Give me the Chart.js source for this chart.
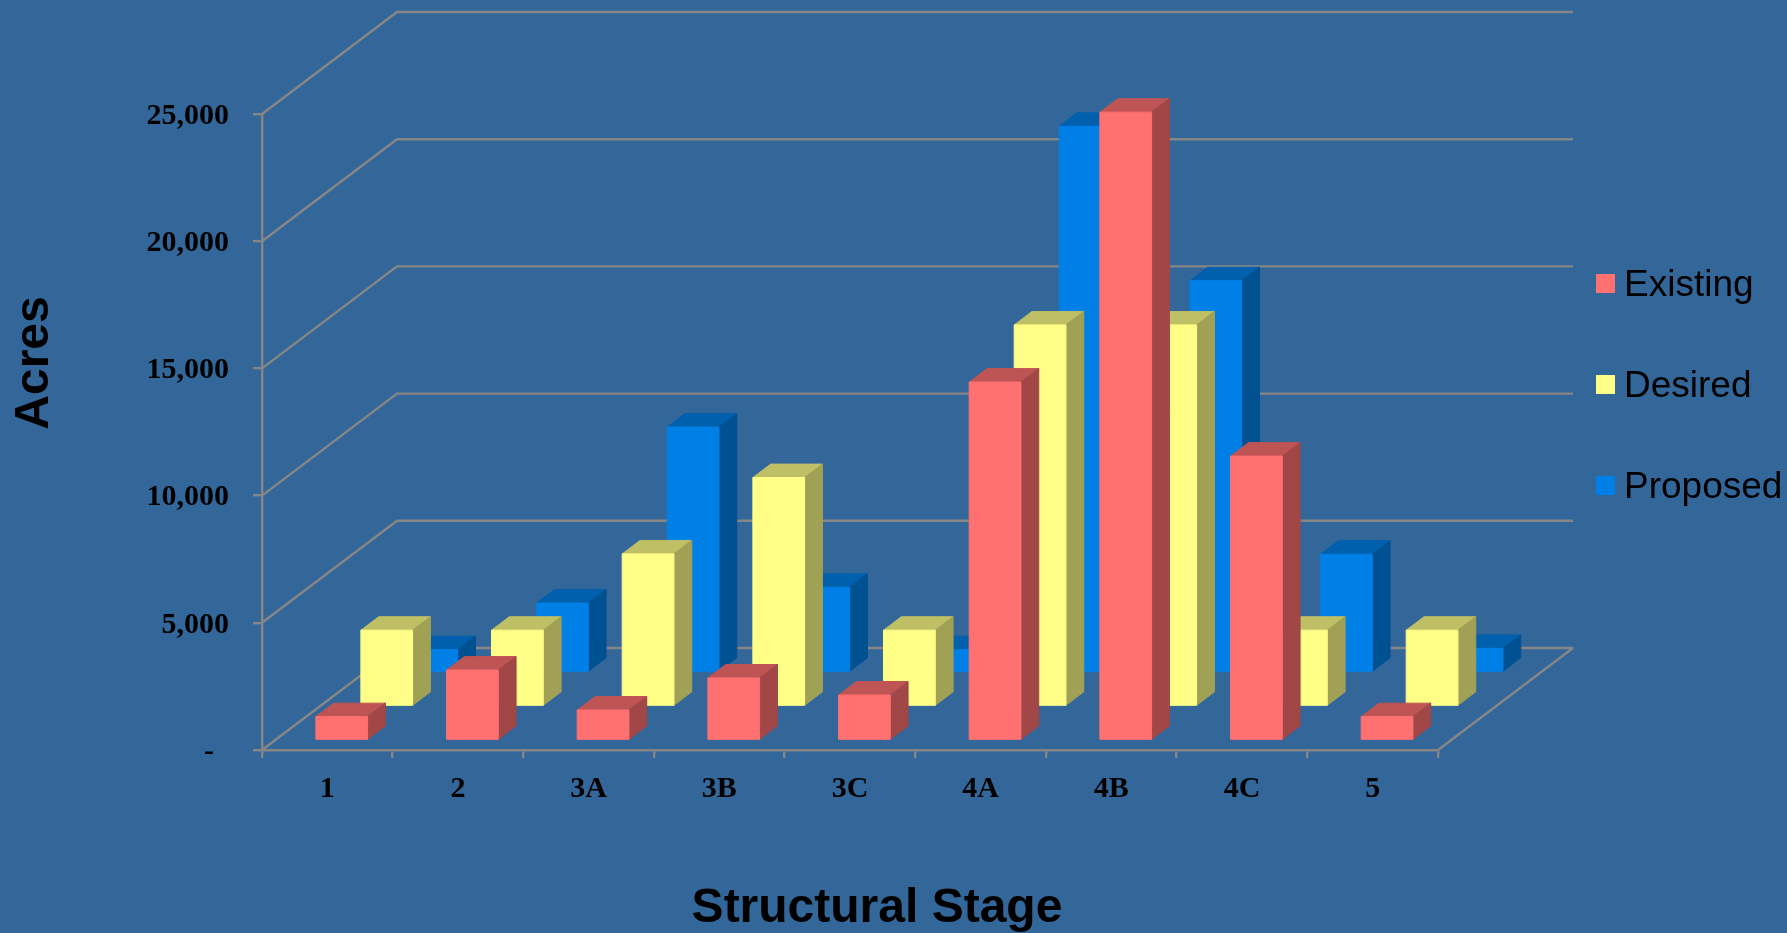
<!DOCTYPE html>
<html>
<head>
<meta charset="utf-8">
<title>Structural Stage</title>
<script src="https://cdn.jsdelivr.net/npm/chart.js@4/dist/chart.umd.min.js"></script>
<style>
  html, body { margin: 0; padding: 0; background: #336699; overflow: hidden; }
  canvas { display: block; }
</style>
</head>
<body>
<canvas id="stageChart" width="1787" height="933"></canvas>
<script>
const stages = ["1", "2", "3A", "3B", "3C", "4A", "4B", "4C", "5"];
const existing = [940, 2770, 1200, 2460, 1790, 14090, 24700, 11180, 940];
const desired = [3000, 3000, 6000, 9000, 3000, 15000, 15000, 3000, 3000];
const proposed = [900, 2730, 9650, 3350, 900, 21470, 15400, 4650, 950];

const seriesNames = ["Existing", "Desired", "Proposed"];
const seriesColors = ["#ff7070", "#ffff88", "#0080e6"];

const gridColor = "#868686";
const DEPTH_X = 135;
const DEPTH_Y = -102;
const ROW_START = 0.32; // where a bar begins inside its depth row
const ROW_FILL = 0.396; // how much of the row the bar takes up
const ROW_DROP = 1.4; // rows sit slightly lower than the exact depth split

function shade(hex, f) {
  const n = parseInt(hex.slice(1), 16);
  const r = Math.round(((n >> 16) & 255) * f);
  const g = Math.round(((n >> 8) & 255) * f);
  const b = Math.round((n & 255) * f);
  return `rgb(${r},${g},${b})`;
}

function poly(ctx, pts, fill) {
  ctx.beginPath();
  pts.forEach((p, i) => (i ? ctx.lineTo(p[0], p[1]) : ctx.moveTo(p[0], p[1])));
  ctx.closePath();
  ctx.fillStyle = fill;
  ctx.strokeStyle = fill;
  ctx.lineWidth = 1;
  ctx.fill();
  ctx.stroke();
}

// Floor and back wall lines, one bent line for each value tick
function drawWalls(chart) {
  const { ctx, chartArea, scales } = chart;
  ctx.save();
  ctx.strokeStyle = gridColor;
  ctx.lineWidth = 2.4;
  scales.y.ticks.forEach((tick, i) => {
    const y = scales.y.getPixelForTick(i);
    ctx.beginPath();
    ctx.moveTo(chartArea.left, y);
    ctx.lineTo(chartArea.left + DEPTH_X, y + DEPTH_Y);
    ctx.lineTo(chartArea.right + DEPTH_X, y + DEPTH_Y);
    ctx.stroke();
  });
  ctx.beginPath();
  ctx.moveTo(chartArea.right, chartArea.bottom);
  ctx.lineTo(chartArea.right + DEPTH_X, chartArea.bottom + DEPTH_Y);
  ctx.stroke();
  ctx.restore();
}

// Each series sits on its own row going back, bars become boxes
function drawBoxes(chart, meta, index) {
  const ctx = chart.ctx;
  const color = chart.data.datasets[index].backgroundColor;
  const rows = chart.data.datasets.length;
  const offX = (DEPTH_X * (index + ROW_START)) / rows;
  const offY = (DEPTH_Y * (index + ROW_START)) / rows + ROW_DROP;
  const dx = (DEPTH_X * ROW_FILL) / rows;
  const dy = (DEPTH_Y * ROW_FILL) / rows;

  ctx.save();
  meta.data.forEach((bar) => {
    const l = bar.x - bar.width / 2 + offX;
    const r = bar.x + bar.width / 2 + offX;
    const t = bar.y + offY;
    const b = bar.base + offY;
    poly(ctx, [[l, t], [l + dx, t + dy], [r + dx, t + dy], [r, t]], shade(color, 0.75));
    poly(ctx, [[r, t], [r + dx, t + dy], [r + dx, b + dy], [r, b]], shade(color, 0.63));
    poly(ctx, [[l, t], [r, t], [r, b], [l, b]], color);
  });
  ctx.restore();
}

function drawLegend(chart) {
  const ctx = chart.ctx;
  ctx.save();
  ctx.font = "37px 'Liberation Sans'";
  ctx.textAlign = "left";
  ctx.textBaseline = "alphabetic";
  chart.data.datasets.forEach((ds, i) => {
    const top = 274 + i * 101;
    ctx.fillStyle = ds.backgroundColor;
    ctx.fillRect(1596, top, 19, 19);
    ctx.fillStyle = "#000";
    ctx.fillText(ds.label, 1624, top + 22);
  });
  ctx.restore();
}

function drawTitles(chart) {
  const ctx = chart.ctx;
  ctx.save();
  ctx.fillStyle = "#000";
  ctx.font = "bold 48px 'Liberation Sans'";
  ctx.textAlign = "center";
  ctx.textBaseline = "alphabetic";
  ctx.fillText("Structural Stage", 877, 922);
  ctx.translate(48, 363);
  ctx.rotate(-Math.PI / 2);
  ctx.fillText("Acres", 0, 0);
  ctx.restore();
}

const box3d = {
  id: "box3d",
  beforeDatasetsDraw: drawWalls,
  beforeDatasetDraw(chart, args) {
    drawBoxes(chart, args.meta, args.index);
    return false;
  },
  afterDraw(chart) {
    drawLegend(chart);
    drawTitles(chart);
  },
};

const tickFont = { family: "'Liberation Serif'", size: 30, weight: "bold" };

new Chart(document.getElementById("stageChart"), {
  type: "bar",
  data: {
    labels: stages,
    datasets: [existing, desired, proposed].map((values, i) => ({
      label: seriesNames[i],
      data: values,
      backgroundColor: seriesColors[i],
      grouped: false,
      barPercentage: 0.396,
      categoryPercentage: 1,
    })),
  },
  options: {
    responsive: false,
    animation: false,
    layout: { padding: { top: 114, right: 349, left: 0, bottom: 0 } },
    plugins: { legend: { display: false }, tooltip: { enabled: false } },
    scales: {
      x: {
        afterFit: (scale) => { scale.height = 183; },
        grid: { drawOnChartArea: false, color: gridColor, lineWidth: 2.4, tickLength: 8 },
        border: { color: gridColor, width: 2.4 },
        ticks: { color: "#000", font: tickFont, padding: 13, maxRotation: 0 },
      },
      y: {
        min: 0,
        max: 25000,
        afterFit: (scale) => { scale.width = 262; },
        grid: { drawOnChartArea: false, color: gridColor, lineWidth: 2.4, tickLength: 9 },
        border: { color: gridColor, width: 2.4 },
        ticks: {
          stepSize: 5000,
          color: "#000",
          font: tickFont,
          padding: 24,
          labelOffset: 2,
          callback: (v) => (v === 0 ? "-  " : v.toLocaleString("en-US")),
        },
      },
    },
  },
  plugins: [box3d],
});
</script>
</body>
</html>
